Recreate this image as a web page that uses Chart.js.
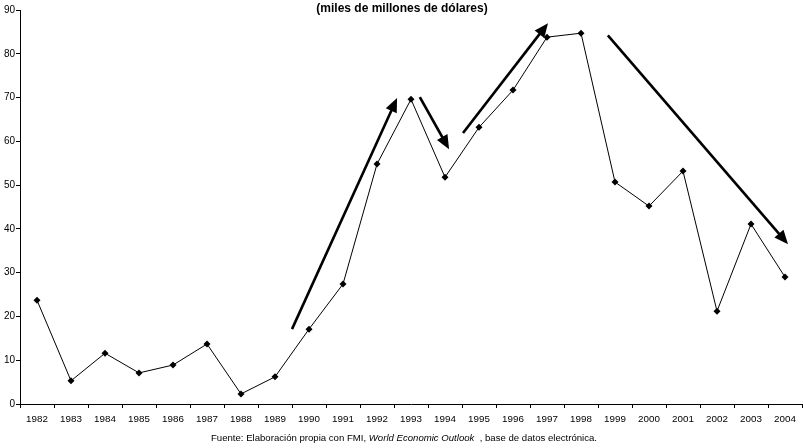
<!DOCTYPE html>
<html>
<head>
<meta charset="utf-8">
<script src="https://cdn.jsdelivr.net/npm/chart.js@4/dist/chart.umd.min.js"></script>
<style>
  html, body { margin: 0; padding: 0; background: #fff; }
  #wrap { width: 803px; height: 448px; position: relative; }
</style>
</head>
<body>
<div id="wrap"><canvas id="c" width="803" height="448"></canvas></div>
<script>
// Years on the horizontal axis
const years = ['1982','1983','1984','1985','1986','1987','1988','1989','1990','1991','1992',
               '1993','1994','1995','1996','1997','1998','1999','2000','2001','2002','2003','2004'];

// Flows, miles de millones de dólares
const flows = [23.7, 5.3, 11.6, 7.1, 8.9, 13.7, 2.3, 6.2, 17.1, 27.4, 54.8,
               69.6, 51.8, 63.2, 71.7, 83.8, 84.7, 50.7, 45.2, 53.2, 21.2, 41.1, 29.0];

// Trend arrows in data space: [fromIndex, fromValue, toIndex, toValue]
const trendArrows = [
  [7.50, 17.1, 10.59, 69.9],
  [11.26, 70.1, 12.12, 58.2],
  [12.53, 61.9, 15.03, 87.0],
  [16.79, 84.2, 22.09, 36.5]
];

const titleText = '(miles de millones de dólares)';
const sourceParts = [
  ['Fuente: Elaboración propia con FMI, ', false],
  ['World Economic Outlook', true],
  ['  , base de datos electrónica.', false]
];

const FONT = '"Liberation Sans", Arial, sans-serif';

const arrowsPlugin = {
  id: 'trendArrows',
  afterDatasetsDraw(chart) {
    const { ctx, scales: { x, y } } = chart;
    ctx.save();
    ctx.strokeStyle = '#000';
    ctx.fillStyle = '#000';
    ctx.lineWidth = 2.6;
    trendArrows.forEach(([i0, v0, i1, v1]) => {
      const x0 = x.getPixelForValue(i0), y0 = y.getPixelForValue(v0);
      const x1 = x.getPixelForValue(i1), y1 = y.getPixelForValue(v1);
      const ang = Math.atan2(y1 - y0, x1 - x0);
      const headLen = 14, headW = 6;
      const bx = x1 - headLen * Math.cos(ang), by = y1 - headLen * Math.sin(ang);
      ctx.beginPath();
      ctx.moveTo(x0, y0);
      ctx.lineTo(bx + 2 * Math.cos(ang), by + 2 * Math.sin(ang));
      ctx.stroke();
      ctx.beginPath();
      ctx.moveTo(x1, y1);
      ctx.lineTo(bx + headW * Math.sin(ang), by - headW * Math.cos(ang));
      ctx.lineTo(bx - headW * Math.sin(ang), by + headW * Math.cos(ang));
      ctx.closePath();
      ctx.fill();
    });
    ctx.restore();
  }
};

const textPlugin = {
  id: 'captions',
  afterDraw(chart) {
    const ctx = chart.ctx;
    ctx.save();
    ctx.fillStyle = '#000';
    ctx.textBaseline = 'middle';
    ctx.font = 'bold 12px ' + FONT;
    ctx.textAlign = 'center';
    ctx.fillText(titleText, 402, 9);

    ctx.textAlign = 'left';
    const size = 9.6;
    let total = 0;
    const widths = sourceParts.map(([t, it]) => {
      ctx.font = (it ? 'italic ' : '') + size + 'px ' + FONT;
      const w = ctx.measureText(t).width;
      total += w;
      return w;
    });
    let cx = 404 - total / 2;
    sourceParts.forEach(([t, it], k) => {
      ctx.font = (it ? 'italic ' : '') + size + 'px ' + FONT;
      ctx.fillText(t, cx, 438.5);
      cx += widths[k];
    });
    ctx.restore();
  }
};

new Chart(document.getElementById('c'), {
  type: 'line',
  data: {
    labels: years,
    datasets: [{
      data: flows,
      borderColor: '#000',
      borderWidth: 1,
      backgroundColor: '#000',
      pointStyle: 'rectRot',
      pointRadius: 3.5,
      pointBorderWidth: 0,
      pointBackgroundColor: '#000',
      tension: 0,
      clip: false
    }]
  },
  options: {
    responsive: false,
    animation: false,
    devicePixelRatio: 1,
    layout: { autoPadding: false, padding: { top: 10, right: 1, left: 0, bottom: 0 } },
    plugins: { legend: { display: false }, tooltip: { enabled: false } },
    scales: {
      x: {
        offset: true,
        grid: { display: true, drawOnChartArea: false, drawTicks: true, tickLength: 4, color: '#000', offset: true },
        border: { display: true, color: '#000', width: 1 },
        ticks: { color: '#000', font: { family: FONT, size: 9.8 }, padding: 5, maxRotation: 0, autoSkip: false },
        afterFit(s) { s.height = 44; s.paddingLeft = 0; s.paddingRight = 0; }
      },
      y: {
        min: 0, max: 90,
        grid: { display: true, drawOnChartArea: false, drawTicks: true, tickLength: 4, color: '#000' },
        border: { display: true, color: '#000', width: 1 },
        ticks: { stepSize: 10, color: '#000', font: { family: FONT, size: 10 }, padding: 1 },
        afterFit(s) { s.width = 20; s.paddingTop = 0; s.paddingBottom = 0; }
      }
    }
  },
  plugins: [arrowsPlugin, textPlugin]
});
</script>
</body>
</html>
